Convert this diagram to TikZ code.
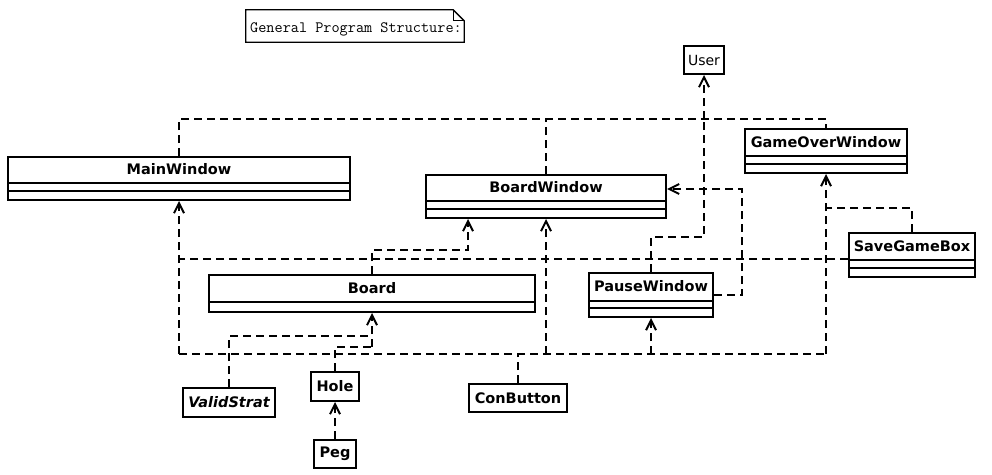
\documentclass[tikz,border=0pt]{standalone}
\usepackage{fontspec}
\setmainfont{DejaVu Sans}
\usetikzlibrary{arrows.meta,calc}
\tikzset{
  box/.style={draw, line width=2pt, fill=white, inner sep=0pt, rectangle},
  smallbox/.style={box, font=\fontsize{14.5}{16}\selectfont\bfseries},
  boxline/.style={line width=2pt},
  cname/.style={font=\fontsize{14.5}{16}\selectfont\bfseries, inner sep=0pt},
  link/.style={line width=2pt, dash pattern=on 8pt off 5pt},
  dep/.style={link, -{Straight Barb[length=10pt,width=10pt,line width=2pt]}},
}
\newcommand\complines[2]{\draw[boxline] ([yshift=-#2pt]#1.north west) -- ([yshift=-#2pt]#1.north east);}
\begin{document}
\begin{tikzpicture}[x=1pt,y=-1pt]
\useasboundingbox (0,0) rectangle (992,474);

% note
\node[inner sep=0pt, minimum width=218, minimum height=32] (note) at (355,26) {};
\node[inner sep=0pt, font=\fontsize{15.8}{17}\selectfont\ttfamily] (notet) at (356,29.5) {General Program Structure:};
\draw[line width=1.3pt] (note.south west) -- (note.north west) -- ([xshift=-11pt]note.north east)
  -- ([yshift=-11pt]note.north east) -- (note.south east) -- cycle;
\draw[line width=1.3pt] ([xshift=-11pt]note.north east) |- ([yshift=-11pt]note.north east);

% classes
\node[box, minimum width=342, minimum height=43] (mw) at (179,178.5) {};
\complines{mw}{27}\complines{mw}{35}
\node[cname] (mwt) at ([yshift=-13.5pt]mw.north) {MainWindow};

\node[box, minimum width=240, minimum height=43] (bw) at (546,196.5) {};
\complines{bw}{27}\complines{bw}{35}
\node[cname] (bwt) at ([yshift=-13.5pt]bw.north) {BoardWindow};

\node[box, minimum width=162, minimum height=44] (gow) at (826,151) {};
\complines{gow}{28}\complines{gow}{36}
\node[cname] (gowt) at ([yshift=-14pt]gow.north) {GameOverWindow};

\node[box, minimum width=326, minimum height=37] (board) at (372,293.5) {};
\complines{board}{28}
\node[cname] (boardt) at ([yshift=-14pt]board.north) {Board};

\node[box, minimum width=124, minimum height=44] (pw) at (651,295) {};
\complines{pw}{29}\complines{pw}{36}
\node[cname] (pwt) at ([yshift=-14.5pt]pw.north) {PauseWindow};

\node[box, minimum width=126, minimum height=44] (sgb) at (912,255) {};
\complines{sgb}{28}\complines{sgb}{36}
\node[cname] (sgbt) at ([yshift=-14pt]sgb.north) {SaveGameBox};

\node[smallbox, minimum width=92, minimum height=29] (vs) at (229,402.5) {\itshape ValidStrat};
\node[smallbox, minimum width=48, minimum height=29] (hole) at (335,386.5) {Hole};
\node[smallbox, minimum width=42, minimum height=28] (peg) at (335,454) {Peg};
\node[smallbox, minimum width=98, minimum height=28] (cb) at (518,398) {ConButton};
\node[box, minimum width=40, minimum height=28, font=\fontsize{14}{15}\selectfont] (user) at (704,60) {User};

% junction points
\coordinate (ubus) at (704,119);
\coordinate (pwu) at (704,237);
\coordinate (pwb) at (742,189);
\coordinate (bbw) at (468,250);
\coordinate (mwj) at (179,259);
\coordinate (bl) at (179,354);
\coordinate (br) at (826,354);
\coordinate (cbus) at (518,354);
\coordinate (sgg) at (826,208);
\coordinate (vsb) at (372,336);
\coordinate (hb) at (372,347);

% dependencies to User
\draw[link] (mw.north) |- (ubus) -| (gow.north);
\draw[link] (bw.north) -- (bw.north |- ubus);
\draw[link] (pw.north) |- (pwu) -- (ubus);
\draw[dep] (ubus) -- (user.south);

% PauseWindow -> BoardWindow
\draw[dep] (pw.east) -| (pwb) -- (pwb -| bw.east);

% Board -> BoardWindow
\draw[dep] (board.north) |- (bbw) -- (bbw |- bw.south);

% SaveGameBox -> MainWindow, GameOverWindow
\draw[link] ([yshift=-4pt]sgb.west) -- (mwj);
\draw[link] (sgb.north) |- (sgg);

% ConButton bus
\draw[dep] (bl) -- (mw.south);
\draw[link] (bl) -- (br);
\draw[link, line width=2.6pt] (cb.north) -- (cbus);
\draw[dep] (cbus -| bw.south) -- (bw.south);
\draw[dep] (cbus -| pw.south) -- (pw.south);
\draw[dep] (br) -- (gow.south);

% ValidStrat, Hole -> Board
\draw[link] (vs.north) |- (vsb);
\draw[link] (hole.north) |- (hb);
\draw[dep] (hb) -- (board.south);

% Peg -> Hole
\draw[dep] (peg.north) -- (hole.south);
\end{tikzpicture}
\end{document}
